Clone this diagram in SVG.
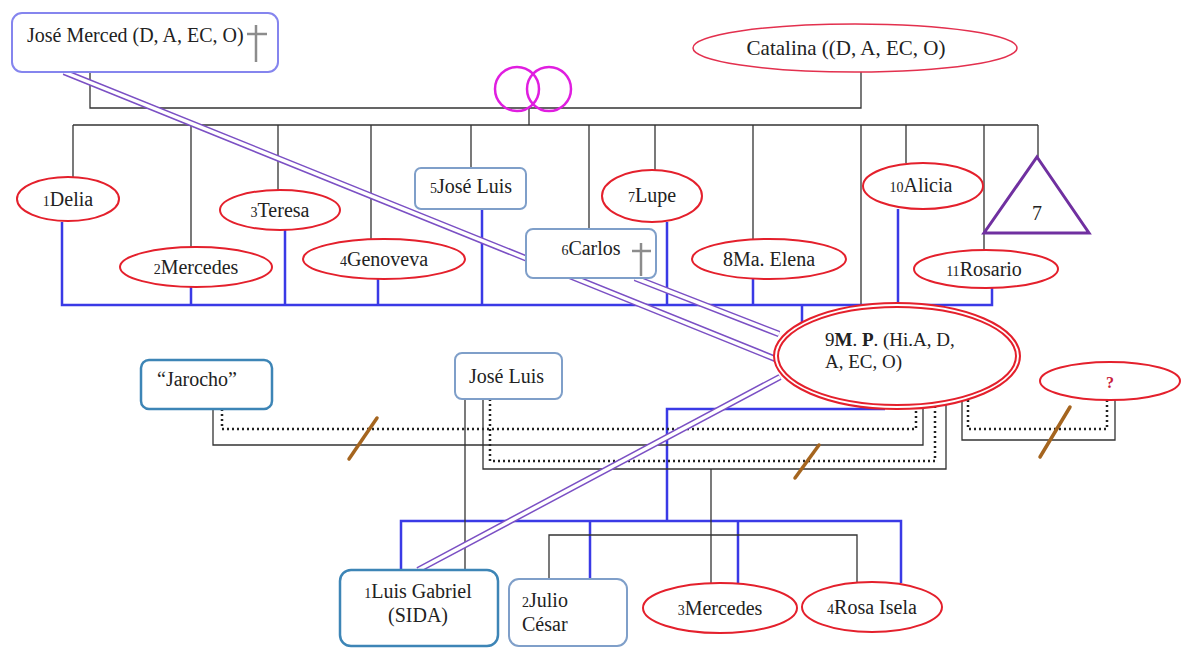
<svg xmlns="http://www.w3.org/2000/svg" width="1182" height="648" viewBox="0 0 1182 648">
  <style>
    text { font-family: "Liberation Serif", "DejaVu Serif", serif; font-size: 20px; fill: #222; }
    .n { font-size: 14px; }
    .mp { font-size: 19px; }
    .fem { fill: #fff; stroke: #e4202c; stroke-width: 2; }
    .box { fill: #fff; stroke: #7f9fc9; stroke-width: 2; }
    .boxd { fill: #fff; stroke: #3d85b6; stroke-width: 2.5; }
    .k { fill: none; stroke: #333; stroke-width: 1.3; }
    .kd { fill: none; stroke: #222; stroke-width: 2.5; stroke-dasharray: 2 3; }
    .b { fill: none; stroke: #3a3ae6; stroke-width: 2.5; }
    .pu { fill: none; stroke: #7b50c4; stroke-width: 6.5; }
    .pw { fill: none; stroke: #fff; stroke-width: 3.5; }
    .cut { stroke: #a5651f; stroke-width: 3.5; stroke-linecap: round; }
    .cross { stroke: #8c8c8c; stroke-width: 2.5; }
    .q { fill: #c8203a; font-size: 16px; font-weight: bold; }
  </style>

  <!-- connectors -->
  <g id="connectors">
    <!-- parents' union and sibling rail -->
    <path class="k" d="M90 72 V108 H861 V72"/>
    <path class="k" d="M529 108 V125"/>
    <path class="k" d="M73 125 H1038"/>
    <path class="k" d="M73 125 V177 M191 125 V247 M278 125 V190 M371 125 V239 M471 125 V168 M589 125 V229 M655 125 V170 M753 125 V239 M861 125 V305 M906 125 V163 M984 125 V250 M1038 125 V157"/>

    <!-- blue rail among siblings -->
    <path class="b" d="M62 222 V305 H992 V288"/>
    <path class="b" d="M191 287 V305 M285 229 V305 M378 278 V305 M482 209 V305 M667 222 V305 M753 278 V305 M898 209 V305 M802 305 V330"/>

    <!-- M. P. children frame -->
    <path class="b" d="M885 409 H667 V521"/>
    <path class="b" d="M401 570 V521 H901 V583 M590 521 V579 M738 521 V583"/>
    <path class="k" d="M549 579 V535 H857 V586"/>

    <!-- partner links of M. P. -->
    <path class="k" d="M213 409 V445 H923 V406"/>
    <path class="kd" d="M222 409 V429 H916 V400"/>
    <path class="k" d="M465 399 V570"/>
    <path class="k" d="M483 399 V469 H946 V398"/>
    <path class="kd" d="M490 399 V461 H935 V400"/>
    <path class="k" d="M711 469 V583"/>
    <path class="k" d="M962 395 V440 H1115 V400"/>
    <path class="kd" d="M968 390 V429 H1107 V400"/>

    <!-- separation marks -->
    <line class="cut" x1="349" y1="459" x2="377" y2="418"/>
    <line class="cut" x1="795" y1="478" x2="819" y2="445"/>
    <line class="cut" x1="1040" y1="457" x2="1070" y2="407"/>

    <!-- double relationship lines -->
    <path class="pu" d="M64 72 L778 360 M635 278 L779 334 M418 570 L780 377"/>
    <path class="pw" d="M64 72 L778 360 M635 278 L779 334 M418 570 L780 377"/>
  </g>

  <g id="rings">
    <circle cx="517" cy="89" r="22" fill="none" stroke="#e01ee0" stroke-width="2.5"/>
    <circle cx="549" cy="89" r="22" fill="none" stroke="#e01ee0" stroke-width="2.5"/>
  </g>

  <g id="jose-merced">
    <rect x="12" y="13" width="266" height="59" rx="10" fill="#fff" stroke="#8585ee" stroke-width="2"/>
    <text x="27" y="42">José Merced (D, A, EC, O)</text>
    <line class="cross" x1="256" y1="25" x2="256" y2="62"/>
    <line class="cross" x1="247" y1="34" x2="267" y2="34"/>
  </g>

  <g id="catalina">
    <ellipse cx="855" cy="48" rx="162" ry="24" fill="#fff" stroke="#e3304e" stroke-width="1.5"/>
    <text x="846" y="55" text-anchor="middle" style="font-size:21px">Catalina ((D, A, EC, O)</text>
  </g>

  <g id="delia">
    <ellipse class="fem" cx="68" cy="199" rx="51" ry="22"/>
    <text x="68" y="206" text-anchor="middle"><tspan class="n">1</tspan>Delia</text>
  </g>
  <g id="mercedes">
    <ellipse class="fem" cx="196" cy="267" rx="76" ry="20"/>
    <text x="196" y="274" text-anchor="middle"><tspan class="n">2</tspan>Mercedes</text>
  </g>
  <g id="teresa">
    <ellipse class="fem" cx="280" cy="210" rx="60" ry="20"/>
    <text x="280" y="217" text-anchor="middle"><tspan class="n">3</tspan>Teresa</text>
  </g>
  <g id="genoveva">
    <ellipse class="fem" cx="384" cy="259" rx="81" ry="20"/>
    <text x="384" y="266" text-anchor="middle"><tspan class="n">4</tspan>Genoveva</text>
  </g>
  <g id="jose-luis-5">
    <rect class="box" x="415" y="168" width="111" height="41" rx="6"/>
    <text x="471" y="193" text-anchor="middle"><tspan class="n">5</tspan>José Luis</text>
  </g>
  <g id="carlos">
    <rect class="box" x="526" y="229" width="130" height="49" rx="7"/>
    <text x="591" y="255" text-anchor="middle"><tspan class="n">6</tspan>Carlos</text>
    <line class="cross" x1="641" y1="243" x2="641" y2="276"/>
    <line class="cross" x1="632" y1="251" x2="651" y2="251"/>
  </g>
  <g id="lupe">
    <ellipse class="fem" cx="652" cy="196" rx="50" ry="26"/>
    <text x="652" y="202" text-anchor="middle"><tspan class="n">7</tspan>Lupe</text>
  </g>
  <g id="ma-elena">
    <ellipse class="fem" cx="769" cy="259" rx="77" ry="20"/>
    <text x="769" y="266" text-anchor="middle">8Ma. Elena</text>
  </g>
  <g id="alicia">
    <ellipse class="fem" cx="923" cy="186" rx="60" ry="23"/>
    <text x="921" y="192" text-anchor="middle"><tspan class="n">10</tspan>Alicia</text>
  </g>
  <g id="rosario">
    <ellipse class="fem" cx="986" cy="269" rx="72" ry="19"/>
    <text x="984" y="276" text-anchor="middle"><tspan class="n">11</tspan>Rosario</text>
  </g>
  <g id="seven">
    <polygon points="1037,157 1089,233 984,233" fill="#fff" stroke="#7030a0" stroke-width="3"/>
    <text x="1037" y="220" text-anchor="middle">7</text>
  </g>

  <g id="mp">
    <ellipse cx="897" cy="356" rx="123" ry="53" fill="#fff" stroke="#e4202c" stroke-width="2"/>
    <ellipse cx="897" cy="356" rx="119" ry="49" fill="none" stroke="#e4202c" stroke-width="2"/>
    <text class="mp" x="825" y="346">9<tspan font-weight="bold">M</tspan>. <tspan font-weight="bold">P</tspan>. (Hi.A, D,</text>
    <text class="mp" x="825" y="368">A, EC, O)</text>
  </g>

  <g id="jarocho">
    <rect class="boxd" x="141" y="360" width="131" height="49" rx="8"/>
    <text x="157" y="386">“Jarocho”</text>
  </g>
  <g id="jose-luis">
    <rect class="box" x="455" y="353" width="107" height="46" rx="7"/>
    <text x="469" y="383">José Luis</text>
  </g>
  <g id="unknown">
    <ellipse class="fem" cx="1110" cy="381" rx="70" ry="19"/>
    <text class="q" x="1110" y="388" text-anchor="middle">?</text>
  </g>

  <g id="luis-gabriel">
    <rect class="boxd" x="340" y="570" width="158" height="76" rx="11"/>
    <text x="418" y="598" text-anchor="middle"><tspan class="n">1</tspan>Luis Gabriel</text>
    <text x="418" y="622" text-anchor="middle">(SIDA)</text>
  </g>
  <g id="julio-cesar">
    <rect class="box" x="509" y="579" width="118" height="67" rx="10"/>
    <text x="522" y="607"><tspan class="n">2</tspan>Julio</text>
    <text x="522" y="631">César</text>
  </g>
  <g id="mercedes-3">
    <ellipse class="fem" cx="720" cy="608" rx="77" ry="25"/>
    <text x="720" y="615" text-anchor="middle"><tspan class="n">3</tspan>Mercedes</text>
  </g>
  <g id="rosa-isela">
    <ellipse class="fem" cx="872" cy="607" rx="70" ry="25"/>
    <text x="872" y="614" text-anchor="middle"><tspan class="n">4</tspan>Rosa Isela</text>
  </g>
</svg>
